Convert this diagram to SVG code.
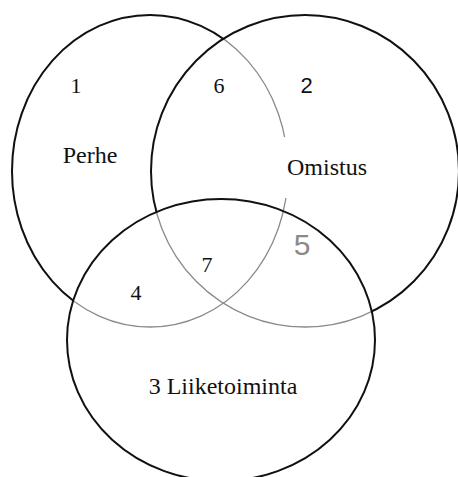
<svg xmlns="http://www.w3.org/2000/svg" width="458" height="477" viewBox="0 0 458 477">
<style>
.k{fill:none;stroke:#111;stroke-width:2}
.g{fill:none;stroke:#8a8a8a;stroke-width:1.3}
text{font-family:"Liberation Serif",serif;fill:#111;text-anchor:middle}
.w{font-size:24px}
.n{font-size:22px}
.s{font-family:"Liberation Sans",sans-serif}
.f{font-family:"Liberation Sans",sans-serif;font-size:30px;fill:#8a8a8a}
</style>
<defs>
<ellipse id="eL" cx="150" cy="171" rx="138" ry="156"/>
<ellipse id="eR" cx="305" cy="171" rx="154" ry="156"/>
<ellipse id="eB" cx="221" cy="340" rx="154" ry="141"/>
<mask id="outRB" maskUnits="userSpaceOnUse" x="0" y="0" width="458" height="477">
<rect width="458" height="477" fill="#fff"/><use href="#eR" fill="#000"/><use href="#eB" fill="#000"/>
</mask>
<mask id="inRB" maskUnits="userSpaceOnUse" x="0" y="0" width="458" height="477">
<rect width="458" height="477" fill="#000"/><use href="#eR" fill="#fff"/><use href="#eB" fill="#fff"/>
<rect x="276" y="137" width="28" height="61" fill="#000"/>
</mask>
<mask id="outB" maskUnits="userSpaceOnUse" x="0" y="0" width="458" height="477">
<rect width="458" height="477" fill="#fff"/><use href="#eB" fill="#000"/>
</mask>
<mask id="inB" maskUnits="userSpaceOnUse" x="0" y="0" width="458" height="477">
<rect width="458" height="477" fill="#000"/><use href="#eB" fill="#fff"/>
</mask>
</defs>
<rect width="458" height="477" fill="#fff"/>
<g id="perhe">
<use href="#eL" class="k" mask="url(#outRB)"/>
<use href="#eL" class="g" mask="url(#inRB)"/>
<text class="w" x="90" y="163">Perhe</text>
</g>
<g id="omistus">
<use href="#eR" class="k" mask="url(#outB)"/>
<use href="#eR" class="g" mask="url(#inB)"/>
<text class="w" x="327" y="175">Omistus</text>
</g>
<g id="liiketoiminta">
<use href="#eB" class="k"/>
<text class="w" x="223" y="394">3 Liiketoiminta</text>
</g>
<g id="regions">
<text class="n" x="76" y="93">1</text>
<text class="n" x="219" y="93">6</text>
<text class="n s" x="306.5" y="93">2</text>
<text class="f" x="302" y="255">5</text>
<text class="n" x="207" y="272">7</text>
<text class="n" x="136" y="300">4</text>
</g>
</svg>
